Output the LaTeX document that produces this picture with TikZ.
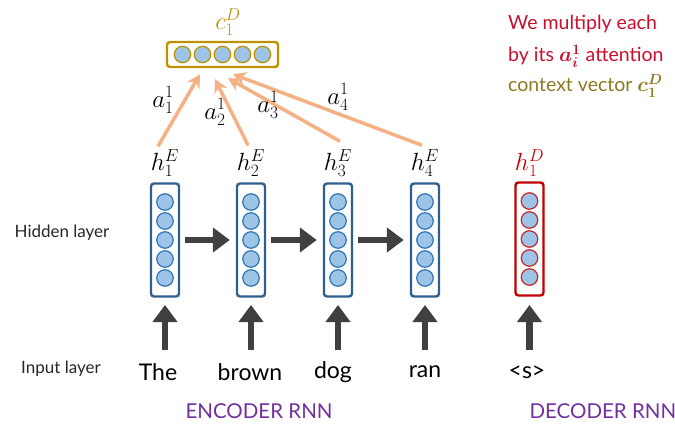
\documentclass[tikz,border=0pt]{standalone}
\usepackage{fontspec}
\usepackage{amsmath,bm}
\setmainfont{Lato}
\usetikzlibrary{arrows.meta,calc}

\definecolor{encblue}{HTML}{2F5F8F}
\definecolor{unitline}{HTML}{2E75B6}
\definecolor{unitfill}{HTML}{9DC3E6}
\definecolor{decred}{HTML}{C00000}
\definecolor{ctxgold}{HTML}{BF9000}
\definecolor{ctxtext}{HTML}{8C7A22}
\definecolor{arrowgray}{HTML}{404040}
\definecolor{peach}{HTML}{F4B183}
\definecolor{rnnpurple}{HTML}{7030A0}
\definecolor{notered}{HTML}{C8102E}

\begin{document}
\begin{tikzpicture}[x=1pt,y=-1pt,
  layerbox/.style={draw=encblue, line width=2.4pt, rounded corners=3pt,
    minimum width=28pt, minimum height=113pt, inner sep=0pt},
  unit/.style={circle, draw=unitline, fill=unitfill, line width=1.2pt,
    minimum size=16.5pt, inner sep=0pt},
  bigarrow/.style={draw=arrowgray, line width=6.5pt,
    -{Triangle[length=17pt,width=24pt]}},
  attn/.style={draw=peach, line width=3.5pt,
    -{Stealth[length=13pt,width=14pt,inset=4pt]}},
  word/.style={font=\fontsize{23}{26}\selectfont, text=black},
  side/.style={font=\fontsize{17}{20}\selectfont, text=black!85},
  rnn/.style={font=\fontsize{20.5}{24}\selectfont, text=rnnpurple},
  mlabel/.style={font=\fontsize{25}{28}\selectfont, inner sep=0pt},
  note/.style={font=\fontsize{19.5}{23}\selectfont, anchor=base west, inner sep=0pt}]
\useasboundingbox (0,0) rectangle (675,425);

% encoder hidden states
\foreach \i/\x in {1/165,2/251,3/338,4/425}{
  \node[layerbox] (e\i) at (\x,240) {};
  \foreach \k/\dy in {1/-38,2/-19,3/0,4/19,5/38}
    \node[unit] (e\i u\k) at (\x,240+\dy) {};
  \node[mlabel] (hE\i) at (\x,163) {$h_{\i}^{E}$};
}

% decoder hidden state
\node[layerbox, draw=decred] (d1) at (529.5,239) {};
\foreach \k/\dy in {1/-38,2/-19,3/0,4/19,5/38}
  \node[unit, draw=decred!85] (d1u\k) at (529.5,239+\dy) {};
\node[mlabel, text=decred] (hD1) at (529.5,163) {$h_{1}^{D}$};

% context vector
\node[draw=ctxgold, line width=2.4pt, rounded corners=3pt,
  minimum width=111pt, minimum height=25pt, inner sep=0pt] (ctx) at (222.5,54.5) {};
\foreach \k/\dx in {1/-40,2/-20,3/0,4/20,5/40}
  \node[unit, draw=ctxgold] (cu\k) at (222.5+\dx,54.5) {};
\node[mlabel, text=ctxgold] (clbl) at (228,22) {$c_{1}^{D}$};

% recurrent connections
\draw[bigarrow, shorten <=5pt, shorten >=6pt] (e1) -- (e2);
\draw[bigarrow, shorten <=5pt, shorten >=6pt] (e2) -- (e3);
\draw[bigarrow, shorten <=5pt, shorten >=6pt] (e3) -- (e4);

% inputs
\node[word] (w1) at (158,372) {The};
\node[word] (w2) at (250,372) {brown};
\node[word] (w3) at (333,372) {dog};
\node[word] (w4) at (425,372) {ran};
\node[word] (w5) at (527,372) {<s>};
\foreach \i in {1,2,3,4}
  \draw[bigarrow] (e\i.south |- 0,350) -- (e\i.south |- 0,305);
\draw[bigarrow] (d1.south |- 0,350) -- (d1.south |- 0,305);

% attention weights into the context vector
\coordinate (t1) at ($(ctx.south)+(-22.5,6)$);
\coordinate (t2) at ($(ctx.south)+(-7.5,11)$);
\coordinate (t3) at ($(ctx.south)+(5.5,10)$);
\coordinate (t4) at ($(ctx.south)+(10.5,6)$);
\draw[attn] ($(hE1.north)+(-7,-3)$) -- (t1);
\draw[attn] ($(hE2.north)+(-3,-4)$) -- (t2);
\draw[attn] ($(hE3.north)+(2,-8)$) -- (t3);
\draw[attn] ($(hE4.north)+(-3,-4)$) -- (t4);
\node[mlabel] (a1) at (163,100) {$a_{1}^{1}$};
\node[mlabel] (a2) at (215,112) {$a_{2}^{1}$};
\node[mlabel] (a3) at (268,105) {$a_{3}^{1}$};
\node[mlabel] (a4) at (338,97) {$a_{4}^{1}$};

% layer and network captions
\node[side] (hid) at (62,233) {Hidden layer};
\node[side] (inp) at (61,369) {Input layer};
\node[rnn] (enc) at (259,411) {ENCODER RNN};
\node[rnn, anchor=west] (dec) at (526,411) {DECODER RNN};

% explanatory note
\node[note, text=notered] (n1) at (508,30) {We multiply each};
\node[note, text=notered] (n2) at (508,62) {by its $\bm{a_{i}^{1}}$ attention};
\node[note, text=ctxtext] (n3) at (508,92) {context vector $\bm{c_{1}^{D}}$};
\end{tikzpicture}
\end{document}
